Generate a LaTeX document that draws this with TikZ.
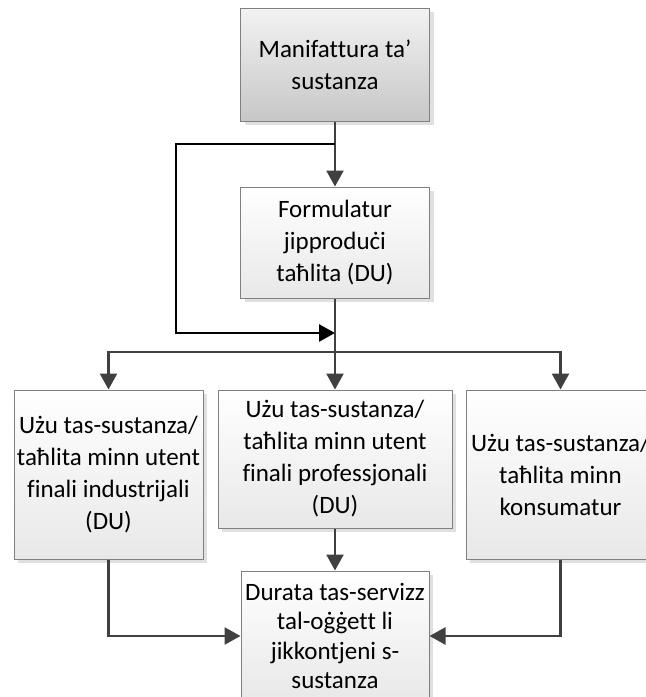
\documentclass[tikz,border=0pt]{standalone}
\usepackage{fontspec}
\setmainfont{Carlito}[Ligatures=NoCommon]
\usetikzlibrary{arrows.meta,shadows}
\definecolor{linegray}{HTML}{404040}

\begin{document}
\begin{tikzpicture}[x=1pt,y=-1pt,
  box/.style={draw=black!50,line width=1pt,align=center,inner sep=0pt,
    top color=white,bottom color=black!9,
    drop shadow={shadow xshift=4pt,shadow yshift=-4pt,fill=black!12,opacity=1},
    font=\fontsize{25}{32}\selectfont},
  darkbox/.style={box,top color=black!5,bottom color=black!22},
  flow/.style={draw=linegray,line width=2.6pt,-{Triangle[length=16pt,width=17pt]}},
  loopline/.style={flow,draw=black}]
  \useasboundingbox (0,0) rectangle (646,697);

  \node[darkbox,minimum width=189pt,minimum height=113pt] (manuf) at (335,64.5) {Manifattura ta’\\sustanza};
  \node[box,minimum width=189pt,minimum height=111pt] (form) at (335,242.5) {Formulatur\\jipproduċi\\taħlita (DU)};
  \node[box,minimum width=189pt,minimum height=169pt] (ind) at (108.5,474.5) {Użu tas-sustanza/\\taħlita minn utent\\finali industrijali\\(DU)};
  \node[box,minimum width=234pt,minimum height=138pt] (prof) at (335,459) {Użu tas-sustanza/\\taħlita minn utent\\finali professjonali\\(DU)};
  \node[box,minimum width=189pt,minimum height=169pt] (cons) at (560.5,474.5) {Użu tas-sustanza/\\taħlita minn\\konsumatur};
  \node[box,minimum width=188pt,minimum height=130pt,font=\fontsize{25}{29.5}\selectfont] (life) at (335,636) {Durata tas-servizz\\tal-oġġett li\\jikkontjeni s-\\sustanza};

  \coordinate (lt) at (176,144);
  \coordinate (lb) at (176,333);
  \coordinate (split) at (335,352);

  \draw[flow] (manuf.south) -- (form.north);
  \draw[loopline] (manuf.south |- lt) -- (lt) -- (lb) -- (form.south |- lb);
  \draw[flow,-] (form.south) -- (split);
  \draw[flow] (split) -| (ind.north);
  \draw[flow] (split) -- (prof.north);
  \draw[flow] (split) -| (cons.north);
  \draw[flow] (prof.south) -- (life.north);
  \draw[flow] (ind.south) |- (life.west);
  \draw[flow] (cons.south) |- (life.east);
\end{tikzpicture}
\end{document}
